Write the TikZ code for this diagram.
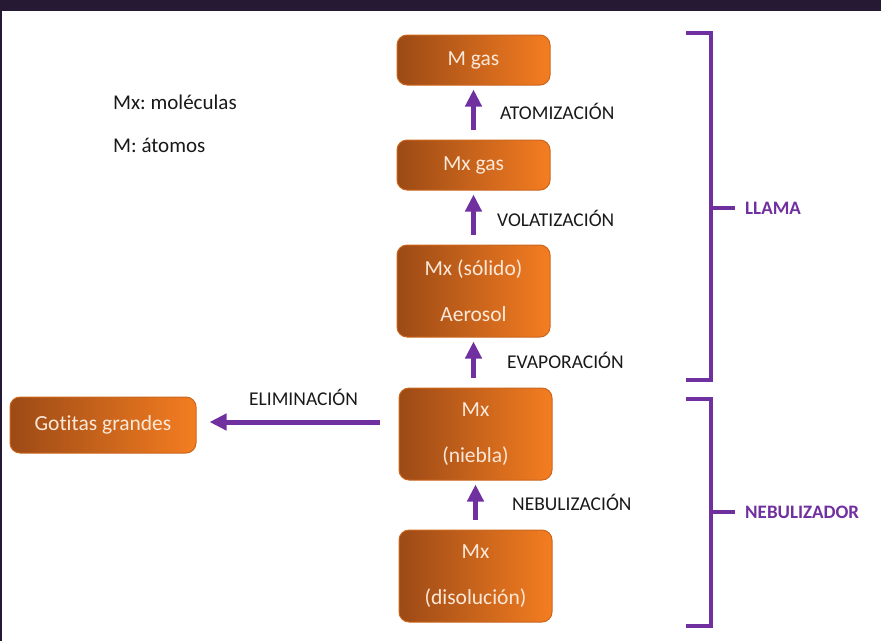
\documentclass[tikz,border=0pt]{standalone}
\usepackage{fontspec}
\setmainfont{Carlito}[Ligatures=NoCommon]
\frenchspacing
\usetikzlibrary{arrows.meta}
\definecolor{morado}{HTML}{7030A0}
\definecolor{cafe}{HTML}{9C4A16}
\definecolor{naranja}{HTML}{F47D21}
\definecolor{crema}{HTML}{FCE8D8}
\definecolor{fondo}{HTML}{261933}
\tikzset{
  caja/.style={draw=cafe!45!naranja, line width=1pt, rounded corners=10pt, left color=cafe, right color=naranja,
    text=crema, minimum width=153pt, inner sep=0pt, align=center, font=\fontsize{21.5}{46}\selectfont},
  paso/.style={anchor=base west, inner sep=0pt, font=\fontsize{19.5}{22}\selectfont, text=black!90},
  grupo/.style={anchor=west, inner sep=0pt, text=morado, font=\fontsize{19}{22}\selectfont\bfseries},
  flecha/.style={morado, line width=5pt, -{Triangle[width=16pt,length=17pt]}, shorten <=10pt, shorten >=4pt},
  llave/.style={morado, line width=3.5pt}
}
\begin{document}
\begin{tikzpicture}[x=1pt,y=-1pt]
  \useasboundingbox (0,0) rectangle (881,641);
  \fill[white] (0,0) rectangle (881,641);
  \fill[fondo] (0,0) rectangle (881,11);
  \fill[fondo] (0,0) rectangle (2,641);
  \node[caja, minimum height=50pt] (mgas) at (473.5,60) {M gas};
  \node[caja, minimum height=50pt] (mxgas) at (473.5,165) {Mx gas};
  \node[caja, minimum height=92pt] (aerosol) at (473.5,291) {Mx (sólido)\\Aerosol};
  \node[caja, minimum height=92pt] (niebla) at (475.5,434) {Mx\\(niebla)};
  \node[caja, minimum height=92pt] (disolucion) at (475.5,576) {Mx\\(disolución)};
  \node[caja, minimum width=186pt, minimum height=56pt] (gotitas) at (103,425) {Gotitas grandes};
  \draw[flecha] (mxgas) -- (mgas);
  \draw[flecha] (aerosol) -- (mxgas);
  \draw[flecha] (niebla.north -| aerosol) -- (aerosol);
  \draw[flecha] (disolucion) -- (niebla);
  \coordinate (elim) at ([yshift=12pt]niebla.west);
  \draw[flecha, shorten <=19pt, shorten >=13pt] (elim) -- (gotitas.east |- elim);
  \node[paso] (atom) at (500,119) {ATOMIZACIÓN};
  \node[paso] (vol) at (497,226) {VOLATIZACIÓN};
  \node[paso] (evap) at (507,368) {EVAPORACIÓN};
  \node[paso] (nebu) at (512,510) {NEBULIZACIÓN};
  \node[paso] (elimi) at (249,405) {ELIMINACIÓN};
  \node[paso, font=\fontsize{21}{24}\selectfont] (leyenda1) at (113,109) {Mx: moléculas};
  \node[paso, font=\fontsize{21}{24}\selectfont] (leyenda2) at (113,152) {M: átomos};
  \draw[llave] (686,33) -- (711,33) -- (711,380) -- (686,380);
  \draw[llave] (686,399) -- (711,399) -- (711,626) -- (686,626);
  \node[grupo] (llama) at (745,208) {LLAMA};
  \node[grupo] (nebulizador) at (745,512) {NEBULIZADOR};
  \draw[llave, shorten >=10pt] (711,208) -- (llama.west);
  \draw[llave, shorten >=10pt] (711,512) -- (nebulizador.west);
\end{tikzpicture}
\end{document}
